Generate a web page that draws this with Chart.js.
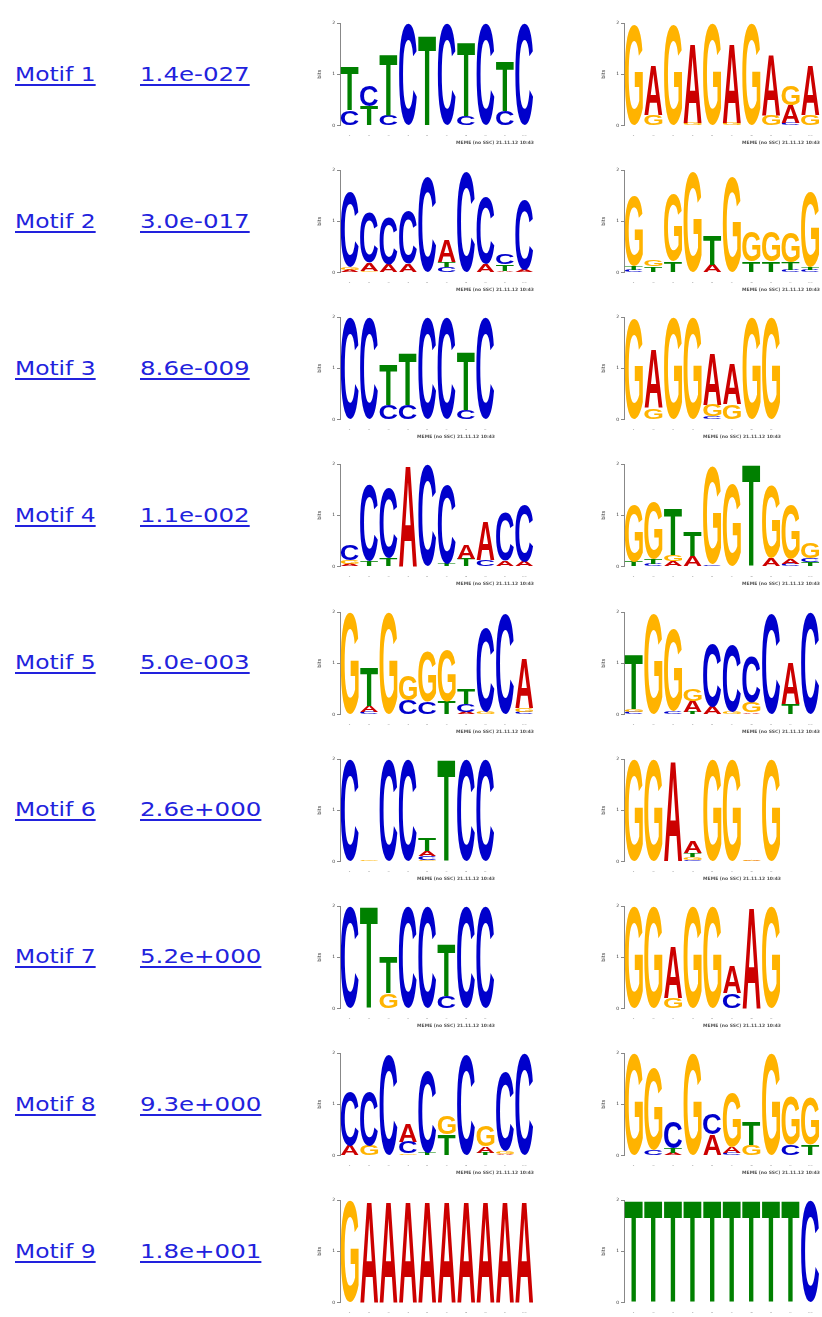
<!DOCTYPE html>
<html>
<head>
<meta charset="utf-8">
<script src="https://cdn.jsdelivr.net/npm/chart.js@4.4.1/dist/chart.umd.min.js"></script>
<style>
  html, body { margin: 0; padding: 0; background: #fff; width: 822px; height: 1317px; overflow: hidden; }
  .lbl {
    position: absolute; height: 24px; line-height: 24px;
    font-family: "DejaVu Sans", Verdana, sans-serif; font-size: 19px;
    color: #2222dd; text-decoration: underline; text-decoration-thickness: 2px;
    text-underline-offset: 3px; white-space: nowrap;
    transform-origin: 0 50%; transform: scaleX(1.23);
  }
  .lbl.ev { transform: scaleX(1.29); }
  canvas { position: absolute; }
</style>
</head>
<body>
<script>
// Motif table
const motifNames = ['Motif 1', 'Motif 2', 'Motif 3', 'Motif 4', 'Motif 5', 'Motif 6', 'Motif 7', 'Motif 8', 'Motif 9'];
const eValues = ['1.4e-027', '3.0e-017', '8.6e-009', '1.1e-002', '5.0e-003', '2.6e+000', '5.2e+000', '9.3e+000', '1.8e+001'];
const posLabels = ['1', '2', '3', '4', '5', '6', '7', '8', '9', '10'];
const stampText = 'MEME (no SSC) 21.11.12 10:43';

// Letter stacks per position, listed bottom to top, with heights in bits
const m1FwdLetters = ['CT', 'TC', 'CT', 'C', 'T', 'C', 'CT', 'C', 'CT', 'C'];
const m1FwdBits = [[.30, .85], [.38, .42], [.20, 1.20], [1.98], [1.75], [1.98], [.18, 1.45], [1.98], [.28, .95], [1.98]];
const m1RevLetters = ['G', 'GA', 'G', 'GA', 'G', 'GA', 'G', 'GA', 'CAG', 'GA'];
const m1RevBits = [[1.95], [.20, .95], [1.95], [.05, 1.55], [1.98], [.05, 1.55], [1.98], [.20, 1.20], [.05, .35, .38], [.20, .95]];

const m2FwdLetters = ['AGC', 'GAC', 'AC', 'AC', 'C', 'CTA', 'C', 'AC', 'ATC', 'AC'];
const m2FwdBits = [[.05, .06, 1.45], [.04, .15, .97], [.15, .93], [.17, 1.03], [1.85], [.10, .10, .42], [1.97], [.17, 1.30], [.04, .13, .20], [.05, 1.35]];
const m2RevLetters = ['CTG', 'TG', 'TG', 'G', 'AT', 'G', 'TG', 'TG', 'CTG', 'CTG'];
const m2RevBits = [[.05, .08, 1.35], [.12, .13], [.22, 1.30], [1.95], [.15, .58], [1.85], [.22, .60], [.22, .60], [.05, .15, .60], [.05, .05, 1.45]];

const m3FwdLetters = ['C', 'C', 'CT', 'CT', 'C', 'C', 'CT', 'C'];
const m3FwdBits = [[1.98], [1.98], [.28, .78], [.28, 1.00], [1.98], [1.98], [.18, 1.15], [1.98]];
const m3RevLetters = ['G', 'GA', 'G', 'G', 'CGA', 'GA', 'G', 'G'];
const m3RevBits = [[1.97], [.22, 1.15], [1.98], [1.98], [.06, .22, 1.00], [.30, .78], [1.98], [1.98]];

const m4FwdLetters = ['AGC', 'TC', 'TC', 'A', 'C', 'TC', 'TA', 'CA', 'AC', 'AC'];
const m4FwdBits = [[.05, .08, .30], [.10, 1.50], [.17, 1.35], [1.98], [1.98], [.05, 1.55], [.15, .27], [.13, .75], [.12, .95], [.10, 1.10]];
const m4RevLetters = ['TG', 'CTG', 'AGT', 'AT', 'CG', 'G', 'T', 'AG', 'CAG', 'TCG'];
const m4RevBits = [[.10, 1.10], [.05, .10, 1.10], [.10, .12, .90], [.20, .48], [.04, 1.90], [1.60], [1.98], [.17, 1.42], [.05, .10, 1.05], [.08, .08, .30]];

const m5FwdLetters = ['G', 'CAT', 'G', 'CG', 'CG', 'TG', 'ACT', 'GC', 'C', 'CGA'];
const m5FwdBits = [[1.98], [.05, .12, .75], [1.98], [.28, .48], [.25, .97], [.25, 1.00], [.05, .15, .30], [.05, 1.65], [1.95], [.05, .08, .97]];
const m5RevLetters = ['CGT', 'G', 'CG', 'TAG', 'AC', 'GC', 'AGC', 'C', 'TA', 'C'];
const m5RevBits = [[.05, .06, 1.05], [1.97], [.06, 1.58], [.05, .22, .22], [.15, 1.22], [.06, 1.30], [.04, .20, .90], [1.97], [.20, .82], [1.98]];

const m6FwdLetters = ['C', 'G', 'C', 'C', 'GCAT', 'T', 'C', 'C'];
const m6FwdBits = [[1.98], [.03], [1.98], [1.98], [.03, .07, .10, .25], [1.98], [1.98], [1.98]];
const m6RevLetters = ['G', 'G', 'A', 'CGTA', 'G', 'G', 'AG', 'G'];
const m6RevBits = [[1.98], [1.98], [1.95], [.03, .05, .08, .22], [1.98], [1.98], [.02, .02], [1.98]];

const m7FwdLetters = ['C', 'T', 'GT', 'C', 'C', 'CT', 'C', 'C'];
const m7FwdBits = [[1.98], [1.98], [.30, .70], [1.98], [1.98], [.25, 1.00], [1.98], [1.98]];
const m7RevLetters = ['G', 'G', 'GA', 'G', 'G', 'CA', 'A', 'G'];
const m7RevBits = [[1.98], [1.98], [.20, 1.00], [1.98], [1.98], [.30, .52], [1.98], [1.98]];

const m8FwdLetters = ['AC', 'GC', 'C', 'GCA', 'TC', 'TG', 'C', 'TAG', 'AGC', 'C'];
const m8FwdBits = [[.20, 1.05], [.20, 1.05], [1.97], [.04, .22, .35], [.05, 1.60], [.42, .35], [1.97], [.06, .12, .42], [.04, .04, 1.55], [1.98]];
const m8RevLetters = ['G', 'CG', 'ATC', 'G', 'AC', 'CAG', 'GT', 'G', 'CG', 'TG'];
const m8RevBits = [[1.98], [.10, 1.60], [.05, .10, .50], [1.98], [.42, .40], [.05, .12, 1.05], [.20, .45], [1.98], [.22, .95], [.22, .92]];

const m9FwdLetters = ['G', 'A', 'A', 'A', 'A', 'A', 'A', 'A', 'A', 'A'];
const m9FwdBits = [[1.98], [1.98], [1.98], [1.98], [1.98], [1.98], [1.98], [1.98], [1.98], [1.98]];
const m9RevLetters = ['T', 'T', 'T', 'T', 'T', 'T', 'T', 'T', 'T', 'C'];
const m9RevBits = [[1.98], [1.98], [1.98], [1.98], [1.98], [1.98], [1.98], [1.98], [1.98], [1.98]];

const fwdLetters = [m1FwdLetters, m2FwdLetters, m3FwdLetters, m4FwdLetters, m5FwdLetters, m6FwdLetters, m7FwdLetters, m8FwdLetters, m9FwdLetters];
const fwdBits = [m1FwdBits, m2FwdBits, m3FwdBits, m4FwdBits, m5FwdBits, m6FwdBits, m7FwdBits, m8FwdBits, m9FwdBits];
const revLetters = [m1RevLetters, m2RevLetters, m3RevLetters, m4RevLetters, m5RevLetters, m6RevLetters, m7RevLetters, m8RevLetters, m9RevLetters];
const revBits = [m1RevBits, m2RevBits, m3RevBits, m4RevBits, m5RevBits, m6RevBits, m7RevBits, m8RevBits, m9RevBits];

const letterColors = { A: '#cc0000', C: '#0000cc', G: '#ffb300', T: '#008000' };

// Page geometry
const ROW_STEP = 147.15;
const FIRST_TOP = 23;      // top of the first logo's plot area
const PLOT_H = 103;        // 2 bits
const PAD_TOP = 6;
const Y_AXIS_W = 24;
const X_AXIS_H = 10;
const CANVAS_H = 131;

// Draw a letter stretched to fill a rectangle
function drawGlyph(ctx, ch, left, top, w, h) {
  ctx.save();
  ctx.font = 'bold 100px "Liberation Sans", Arial, sans-serif';
  ctx.textAlign = 'left';
  ctx.textBaseline = 'alphabetic';
  const m = ctx.measureText(ch);
  const gw = m.actualBoundingBoxLeft + m.actualBoundingBoxRight;
  const gh = m.actualBoundingBoxAscent + m.actualBoundingBoxDescent;
  ctx.translate(left, top);
  ctx.scale(w / gw, h / gh);
  ctx.fillStyle = letterColors[ch];
  ctx.fillText(ch, m.actualBoundingBoxLeft, m.actualBoundingBoxAscent);
  ctx.restore();
}

// Paints each stacked bar segment as its nucleotide letter
const logoLetters = {
  id: 'logoLetters',
  afterDatasetsDraw(chart) {
    const ctx = chart.ctx;
    chart.data.datasets.forEach((ds, i) => {
      const meta = chart.getDatasetMeta(i);
      meta.data.forEach((bar, j) => {
        const ch = ds.letters[j];
        if (!ch) return;
        const p = bar.getProps(['x', 'y', 'base', 'width'], true);
        const h = p.base - p.y;
        if (h < 0.4) return;
        drawGlyph(ctx, ch, p.x - p.width / 2, p.y, p.width, h);
      });
    });
  }
};

function makeLogo(letters, bits, plotLeft, plotTop, colW) {
  const n = letters.length;
  const depth = Math.max(...letters.map(s => s.length));
  const datasets = [];
  for (let k = 0; k < depth; k++) {
    datasets.push({
      data: bits.map(col => (col[k] !== undefined ? col[k] : 0)),
      letters: letters.map(s => s[k] || ''),
      backgroundColor: 'rgba(0,0,0,0)',
      borderWidth: 0,
      barPercentage: 0.92,
      categoryPercentage: 1.0
    });
  }
  const canvas = document.createElement('canvas');
  const width = Y_AXIS_W + n * colW + 5;
  canvas.width = Math.round(width);
  canvas.height = CANVAS_H;
  canvas.style.left = (plotLeft - Y_AXIS_W) + 'px';
  canvas.style.top = (plotTop - PAD_TOP) + 'px';
  document.body.appendChild(canvas);

  new Chart(canvas, {
    type: 'bar',
    data: { labels: posLabels.slice(0, n), datasets },
    plugins: [logoLetters],
    options: {
      responsive: false,
      animation: false,
      devicePixelRatio: 1,
      layout: { padding: { top: PAD_TOP, right: 5, left: 0, bottom: 0 } },
      plugins: {
        legend: { display: false },
        tooltip: { enabled: false },
        title: {
          display: true, text: stampText, position: 'bottom', align: 'end',
          color: '#555', font: { size: 4.5, family: 'DejaVu Sans' },
          padding: { top: 5, bottom: 2 }
        }
      },
      scales: {
        x: {
          stacked: true,
          grid: { display: false },
          border: { display: false },
          ticks: { color: '#333', font: { size: 4, family: 'DejaVu Sans' }, padding: 1, maxRotation: 0, autoSkip: false },
          afterFit: s => { s.height = X_AXIS_H; }
        },
        y: {
          stacked: true, min: 0, max: 2,
          ticks: { stepSize: 1, color: '#333', font: { size: 4.5, family: 'DejaVu Sans' }, padding: 2 },
          grid: { drawOnChartArea: false, tickLength: 3, color: '#888' },
          border: { display: true, color: '#888', width: 1 },
          title: { display: true, text: 'bits', color: '#333', font: { size: 5, family: 'DejaVu Sans' }, padding: 1 },
          afterFit: s => { s.width = Y_AXIS_W; }
        }
      }
    }
  });
}

motifNames.forEach((name, i) => {
  const top = FIRST_TOP + ROW_STEP * i;
  const mid = top + PLOT_H / 2;

  const a = document.createElement('div');
  a.className = 'lbl';
  a.textContent = name;
  a.style.left = '15px';
  a.style.top = (mid - 13) + 'px';
  document.body.appendChild(a);

  const e = document.createElement('div');
  e.className = 'lbl ev';
  e.textContent = eValues[i];
  e.style.left = '140px';
  e.style.top = (mid - 13) + 'px';
  document.body.appendChild(e);

  makeLogo(fwdLetters[i], fwdBits[i], 340, top, 19.4);
  makeLogo(revLetters[i], revBits[i], 624, top, 19.6);
});
</script>
</body>
</html>
